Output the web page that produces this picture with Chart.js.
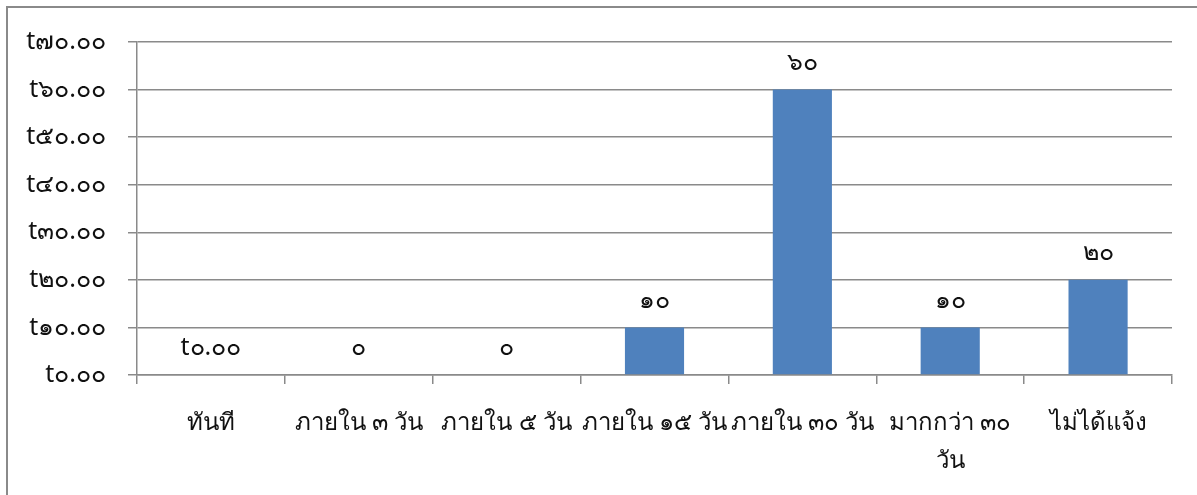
<!DOCTYPE html>
<html>
<head>
<meta charset="utf-8">
<script src="https://cdn.jsdelivr.net/npm/chart.js@4"></script>
<style>
  html, body { margin: 0; padding: 0; background: #ffffff; }
  #wrap { width: 1197px; height: 495px; }
</style>
</head>
<body>
<div id="wrap"><canvas id="chart" width="1197" height="495"></canvas></div>
<script>
const CATEGORIES = [
  "ทันที",
  "ภายใน ๓ วัน",
  "ภายใน ๕ วัน",
  "ภายใน ๑๕ วัน",
  "ภายใน ๓๐ วัน",
  ["มากกว่า ๓๐", "วัน"],
  "ไม่ได้แจ้ง",
];
const VALUES = [0, 0, 0, 10, 60, 10, 20];
const VALUE_LABELS = ["t๐.๐๐", "๐", "๐", "๑๐", "๖๐", "๑๐", "๒๐"];
const Y_TICK_LABELS = [
  "t๐.๐๐",
  "t๑๐.๐๐",
  "t๒๐.๐๐",
  "t๓๐.๐๐",
  "t๔๐.๐๐",
  "t๕๐.๐๐",
  "t๖๐.๐๐",
  "t๗๐.๐๐",
];

const FONT = "'Noto Sans', 'DejaVu Sans', sans-serif";
const GRID = "#8a8a8a";

// outer frame of the chart object (cut by the picture on right and bottom)
const framePlugin = {
  id: "frame",
  beforeDraw(chart) {
    const ctx = chart.ctx;
    ctx.save();
    ctx.strokeStyle = "#8a8a8a";
    ctx.lineWidth = 2;
    ctx.strokeRect(7, 7, 1400, 700);
    ctx.restore();
  },
};

// value labels above each bar
const valueLabels = {
  id: "valueLabels",
  afterDatasetsDraw(chart) {
    const ctx = chart.ctx;
    const meta = chart.getDatasetMeta(0);
    ctx.save();
    ctx.font = "25px " + FONT;
    ctx.fillStyle = "#111111";
    ctx.textAlign = "center";
    ctx.textBaseline = "middle";
    meta.data.forEach((bar, i) => {
      ctx.fillText(VALUE_LABELS[i], bar.x, bar.y - 27);
    });
    ctx.restore();
  },
};

new Chart(document.getElementById("chart"), {
  type: "bar",
  data: {
    labels: CATEGORIES,
    datasets: [
      {
        data: VALUES,
        backgroundColor: "#4f81bd",
        borderWidth: 0,
        barPercentage: 0.4,
        categoryPercentage: 1,
      },
    ],
  },
  options: {
    responsive: false,
    animation: false,
    events: [],
    layout: {
      padding: { left: 8, right: 25, top: 42, bottom: 0 },
    },
    plugins: {
      legend: { display: false },
      tooltip: { enabled: false },
    },
    scales: {
      y: {
        min: 0,
        max: 70,
        afterFit: (scale) => {
          scale.width = 129;
        },
        ticks: {
          stepSize: 10,
          color: "#111111",
          padding: 22,
          font: { family: FONT, size: 25 },
          callback: (value, index) => Y_TICK_LABELS[index],
        },
        grid: {
          color: GRID,
          lineWidth: 1.5,
          tickLength: 9,
        },
        border: { color: GRID, width: 1.5 },
      },
      x: {
        afterFit: (scale) => {
          scale.height = 120;
        },
        ticks: {
          color: "#111111",
          padding: 20,
          maxRotation: 0,
          autoSkip: false,
          font: { family: FONT, size: 24, lineHeight: 1.6 },
        },
        grid: {
          drawOnChartArea: false,
          color: GRID,
          lineWidth: 1.5,
          tickLength: 9,
          offset: true,
        },
        border: { color: GRID, width: 1.5 },
      },
    },
  },
  plugins: [framePlugin, valueLabels],
});
</script>
</body>
</html>
